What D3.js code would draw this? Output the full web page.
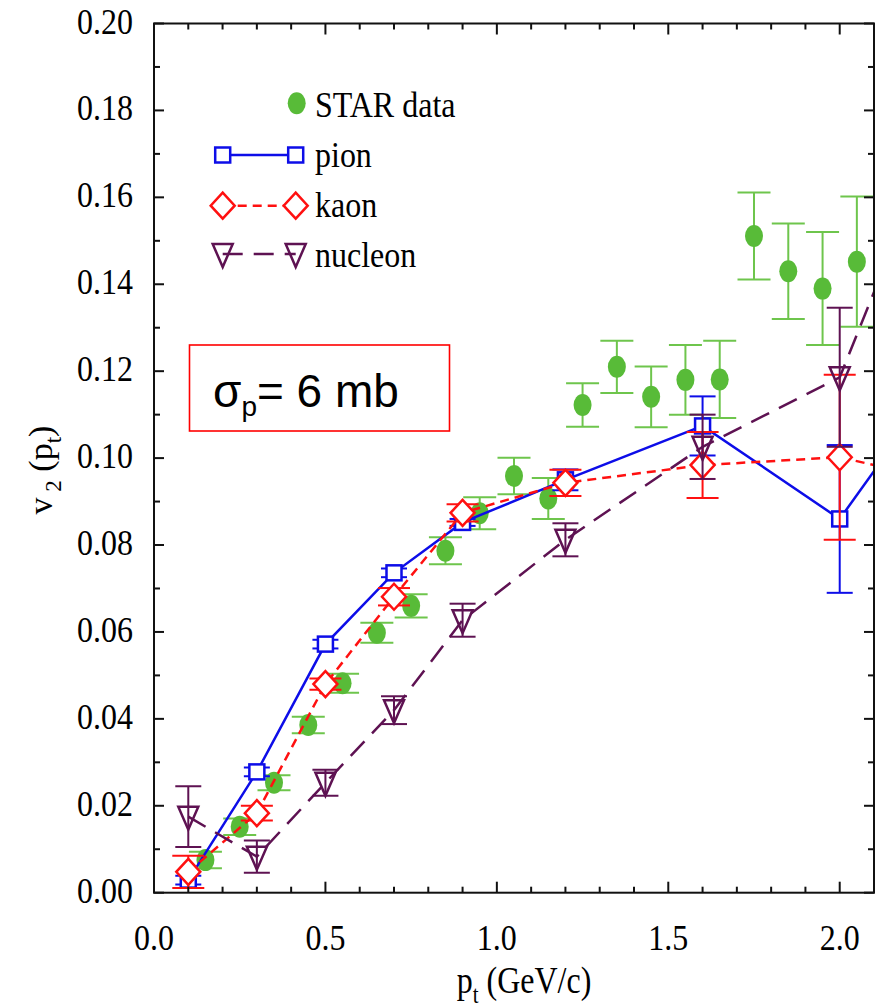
<!DOCTYPE html>
<html>
<head>
<meta charset="utf-8">
<script src="https://cdn.jsdelivr.net/npm/d3@7"></script>
<style>
  html, body { margin: 0; padding: 0; background: #fff; }
  svg { display: block; }
  .serif { font-family: "Liberation Serif", Tinos, "Times New Roman", Times, "DejaVu Serif", serif; }
  .sans { font-family: "Liberation Sans", Arimo, Arial, sans-serif; }
</style>
</head>
<body>
<svg id="chart" width="877" height="1008"></svg>
<script>
// Transverse momentum grid of the transport-model results (GeV/c)
const modelPt = [0.1, 0.3, 0.5, 0.7, 0.9, 1.2, 1.6, 2.0, 2.4];
const pionV2 = [0.0029, 0.0278, 0.0572, 0.0736, 0.0852, 0.0950, 0.1074, 0.0860, 0.1300];
const pionErr = [0.0010, 0.0010, 0.0010, 0.0010, 0.0008, 0.0024, 0.0068, 0.0170, 0.0200];
const kaonV2 = [0.0048, 0.0183, 0.0480, 0.0681, 0.0874, 0.0943, 0.0984, 0.1002, 0.0930];
const kaonErr = [0.0037, 0.0017, 0.0013, 0.0020, 0.0020, 0.0030, 0.0076, 0.0190, 0.0200];
const nucleonV2 = [0.0175, 0.0083, 0.0253, 0.0420, 0.0627, 0.0812, 0.1026, 0.1186, 0.1970];
const nucleonErr = [0.0070, 0.0037, 0.0030, 0.0032, 0.0038, 0.0038, 0.0074, 0.0160, 0.0200];

// STAR measurement
const starPt = [0.15, 0.25, 0.35, 0.45, 0.55, 0.65, 0.75, 0.85, 0.95, 1.05,
                1.15, 1.25, 1.35, 1.45, 1.55, 1.65, 1.75, 1.85, 1.95, 2.05];
const starV2 = [0.0075, 0.0152, 0.0253, 0.0386, 0.0482, 0.0598, 0.0660, 0.0787, 0.0873, 0.0959,
                0.0907, 0.1122, 0.1210, 0.1141, 0.1180, 0.1181, 0.1511, 0.1430, 0.1390, 0.1452];
const starErr = [0.0019, 0.0019, 0.0017, 0.0019, 0.0022, 0.0023, 0.0027, 0.0031, 0.0037, 0.0042,
                 0.0047, 0.0050, 0.0060, 0.0070, 0.0080, 0.0089, 0.0100, 0.0110, 0.0130, 0.0150];

const xTicks = [0.0, 0.5, 1.0, 1.5, 2.0];
const yTicks = [0.00, 0.02, 0.04, 0.06, 0.08, 0.10, 0.12, 0.14, 0.16, 0.18, 0.20];
const legendLabels = ["STAR data", "pion", "kaon", "nucleon"];

const svg = d3.select("#chart");
const L = 154, R = 874, T = 23.5, B = 892.7;
const x = d3.scaleLinear().domain([0, 2.1]).range([L, R]);
const y = d3.scaleLinear().domain([0, 0.2]).range([B, T]);

const blue = "#0d0de8", red = "#ff1010", purple = "#5e1252";
const green = "#58bb38", greenBar = "#6ec54c";

// clip region for data
svg.append("defs").append("clipPath").attr("id", "plotClip")
  .append("rect").attr("x", L).attr("y", T).attr("width", R - L).attr("height", B - T);

const plot = svg.append("g").attr("clip-path", "url(#plotClip)");

// --- STAR data: error bars then filled ellipses
const starData = starPt.map((p, i) => ({ p, v: starV2[i], e: starErr[i] }));
const sg = plot.append("g");
starData.forEach(d => {
  const cx = x(d.p);
  sg.append("line").attr("x1", cx).attr("x2", cx).attr("y1", y(d.v + d.e)).attr("y2", y(d.v - d.e))
    .attr("stroke", greenBar).attr("stroke-width", 2);
  [d.v + d.e, d.v - d.e].forEach(v => {
    sg.append("line").attr("x1", cx - 16.5).attr("x2", cx + 16.5).attr("y1", y(v)).attr("y2", y(v))
      .attr("stroke", greenBar).attr("stroke-width", 2);
  });
});
sg.selectAll("ellipse").data(starData).join("ellipse")
  .attr("cx", d => x(d.p)).attr("cy", d => y(d.v)).attr("rx", 9).attr("ry", 11)
  .attr("fill", green);

// --- model series
const symbols = {
  square: (g, cx, cy, c) => g.append("rect").attr("x", cx - 7.5).attr("y", cy - 7.5)
    .attr("width", 15).attr("height", 15).attr("fill", "#fff").attr("stroke", c).attr("stroke-width", 2.5),
  diamond: (g, cx, cy, c) => g.append("path")
    .attr("d", `M${cx},${cy - 13}L${cx + 12},${cy}L${cx},${cy + 13}L${cx - 12},${cy}Z`)
    .attr("fill", "#fff").attr("stroke", c).attr("stroke-width", 2.5),
  triangle: (g, cx, cy, c) => g.append("path")
    .attr("d", `M${cx - 10},${cy - 10}L${cx + 10},${cy - 10}L${cx},${cy + 13}Z`)
    .attr("fill", "none").attr("stroke", c).attr("stroke-width", 2.5)
};

const series = [
  { v: pionV2, e: pionErr, color: blue, dash: null, sym: "square", cap: 13, barsOver: false },
  { v: kaonV2, e: kaonErr, color: red, dash: "9,6", sym: "diamond", cap: 16, barsOver: false },
  { v: nucleonV2, e: nucleonErr, color: purple, dash: "20,11", sym: "triangle", cap: 13, barsOver: true }
];

const line = d3.line().x(d => x(d.p)).y(d => y(d.v));

series.forEach(s => {
  const pts = modelPt.map((p, i) => ({ p, v: s.v[i], e: s.e[i] }));
  const g = plot.append("g");
  g.append("path").datum(pts).attr("d", line).attr("fill", "none")
    .attr("stroke", s.color).attr("stroke-width", 2.5)
    .attr("stroke-dasharray", s.dash);
  const bars = () => pts.forEach(d => {
    const cx = x(d.p);
    g.append("line").attr("x1", cx).attr("x2", cx).attr("y1", y(d.v + d.e)).attr("y2", y(d.v - d.e))
      .attr("stroke", s.color).attr("stroke-width", 2);
    [d.v + d.e, d.v - d.e].forEach(v => {
      g.append("line").attr("x1", cx - s.cap).attr("x2", cx + s.cap).attr("y1", y(v)).attr("y2", y(v))
        .attr("stroke", s.color).attr("stroke-width", 2);
    });
  });
  if (!s.barsOver) bars();
  pts.forEach(d => symbols[s.sym](g, x(d.p), y(d.v), s.color));
  if (s.barsOver) bars();
});

// --- frame and ticks
const axes = svg.append("g").attr("stroke", "#111").attr("stroke-width", 2);
axes.append("rect").attr("x", L).attr("y", T).attr("width", R - L).attr("height", B - T)
  .attr("fill", "none");
d3.range(0, 21).forEach(i => {
  const v = i / 10;
  const len = i % 5 === 0 ? 11 : 6;
  axes.append("line").attr("x1", x(v)).attr("x2", x(v)).attr("y1", B).attr("y2", B - len);
  axes.append("line").attr("x1", x(v)).attr("x2", x(v)).attr("y1", T).attr("y2", T + len);
});
d3.range(0, 21).forEach(i => {
  const v = i / 100;
  const len = i % 2 === 0 ? 10 : 6;
  axes.append("line").attr("x1", L).attr("x2", L + len).attr("y1", y(v)).attr("y2", y(v));
  axes.append("line").attr("x1", R).attr("x2", R - len).attr("y1", y(v)).attr("y2", y(v));
});

// text helper: glyphs drawn slightly tall
function label(tx, ty, opts) {
  const g = svg.append("g")
    .attr("transform", `translate(${tx},${ty}) ${opts.rot ? "rotate(-90)" : ""} scale(1,${opts.sy || 1})`);
  return g.append("text").attr("x", 0).attr("y", 0)
    .attr("class", opts.cls || "serif").attr("font-size", opts.size)
    .attr("text-anchor", opts.anchor || "start").attr("fill", "#000");
}

yTicks.forEach(v => {
  label(133, y(v) + 10, { size: 32, anchor: "end", sy: 1.12 }).text(v.toFixed(2));
});
xTicks.forEach(v => {
  label(x(v), 950, { size: 32, anchor: "middle", sy: 1.12 }).text(v.toFixed(1));
});

// axis titles
{
  const t = label(524, 993, { size: 32, anchor: "middle", sy: 1.2 });
  t.append("tspan").text("p");
  t.append("tspan").attr("font-size", 21).attr("dy", 8).text("t");
  t.append("tspan").attr("dy", -8).text(" (GeV/c)");
}
{
  const t = label(52, 470, { size: 34, anchor: "middle", rot: true });
  t.append("tspan").text("v");
  t.append("tspan").attr("font-size", 23).attr("dy", 9).text(" 2");
  t.append("tspan").attr("dy", -9).text(" (p");
  t.append("tspan").attr("font-size", 23).attr("dy", 9).text("t");
  t.append("tspan").attr("dy", -9).text(")");
}

// --- legend
const lg = svg.append("g");
const rowY = [103.3, 155, 205.7, 254];
const textY = [116.7, 166.7, 216.7, 266.7];
lg.append("ellipse").attr("cx", 296.7).attr("cy", rowY[0]).attr("rx", 9).attr("ry", 11).attr("fill", green);
series.forEach((s, i) => {
  const yy = rowY[i + 1];
  lg.append("line").attr("x1", 222.7).attr("x2", 295.7).attr("y1", yy).attr("y2", yy)
    .attr("stroke", s.color).attr("stroke-width", 2.5).attr("stroke-dasharray", s.dash);
  symbols[s.sym](lg, 222.7, yy, s.color);
  symbols[s.sym](lg, 295.7, yy, s.color);
});
legendLabels.forEach((txt, i) => {
  label(315, textY[i], { size: 32, sy: 1.1 }).text(txt);
});

// --- cross-section annotation
svg.append("rect").attr("x", 189.5).attr("y", 345).attr("width", 260).attr("height", 86)
  .attr("fill", "#fff").attr("stroke", "#ff0000").attr("stroke-width", 1.6);
{
  const t = label(213, 406.7, { size: 46, cls: "sans" });
  t.append("tspan").text("σ");
  t.append("tspan").attr("font-size", 28).attr("dy", 9).text("p");
  t.append("tspan").attr("dy", -9).text("= 6 mb");
}
</script>
</body>
</html>
